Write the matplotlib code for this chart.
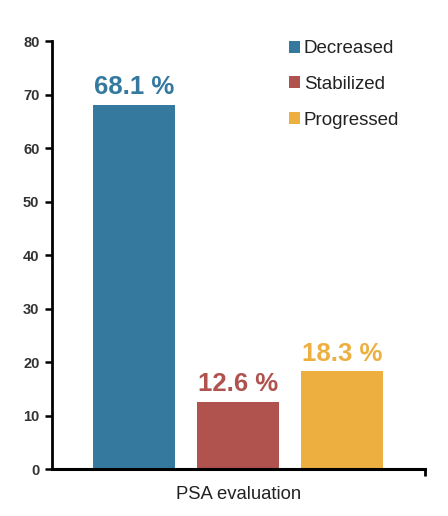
import matplotlib
matplotlib.use("Agg")
import matplotlib.pyplot as plt
from matplotlib.patches import Patch

plt.rcParams['font.family'] = ['Liberation Sans', 'DejaVu Sans']

categories = ["Decreased", "Stabilized", "Progressed"]
values = [68.1, 12.6, 18.3]
labels = ["68.1 %", "12.6 %", "18.3 %"]
colors = ["#357A9E", "#B0524E", "#EDB040"]
yticks = [0, 10, 20, 30, 40, 50, 60, 70, 80]

fig = plt.figure(figsize=(4.48, 5.16), dpi=100)
ax = fig.add_axes([0.116, 0.091, 0.833, 0.829])

x = list(range(len(values)))
ax.bar(x, values, width=0.79, color=colors)
for xi, v, lab, c in zip(x, values, labels, colors):
    ax.annotate(lab, (xi, v), xytext=(0, 4), textcoords='offset points',
                ha='center', va='bottom', color=c, fontsize=18.5, fontweight='bold')

ax.set_xlim(-0.79, 2.80)
ax.set_ylim(0, 80)
ax.set_yticks(yticks)
ax.set_xticks([2.80])
ax.set_xticklabels([""])
ax.tick_params(axis='x', length=5, width=2, direction='out')
ax.tick_params(axis='y', length=5, width=1.8, direction='out', labelsize=10.5,
               labelcolor='#333333', pad=4)
for t in ax.get_yticklabels():
    t.set_fontweight('bold')
for s in ['top', 'right']:
    ax.spines[s].set_visible(False)
ax.spines['left'].set_linewidth(2)
ax.spines['bottom'].set_linewidth(2.2)

ax.set_xlabel("PSA evaluation", fontsize=13.3, color='#222222', labelpad=4)

handles = [Patch(facecolor=c, edgecolor='none') for c in colors]
leg = ax.legend(handles, categories, loc='upper left', bbox_to_anchor=(0.615, 1.02),
                frameon=False, fontsize=13.5, handlelength=0.6, handleheight=0.6,
                handletextpad=0.2, labelspacing=1.0, borderaxespad=0)
for t in leg.get_texts():
    t.set_color('#222222')

fig.savefig("out.png", dpi=100)
